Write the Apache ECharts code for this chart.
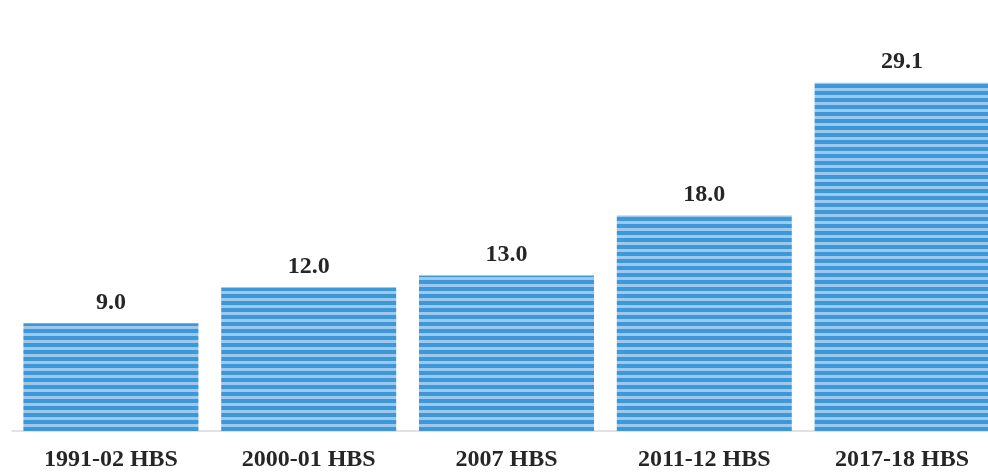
<!DOCTYPE html>
<html>
<head>
<meta charset="utf-8">
<script src="https://cdn.jsdelivr.net/npm/echarts@6/dist/echarts.min.js"></script>
<style>
html,body{margin:0;padding:0;background:#fff;}
#wrap{width:988px;height:472px;overflow:hidden;position:relative;}
#chart{position:absolute;left:0;top:0;width:1001px;height:472px;}
</style>
</head>
<body>
<div id="wrap"><div id="chart"></div></div>
<script>
const categories = ['1991-02 HBS', '2000-01 HBS', '2007 HBS', '2011-12 HBS', '2017-18 HBS'];
const values = [9.0, 12.0, 13.0, 18.0, 29.1];

function stripePattern() {
  const c = document.createElement('canvas');
  c.width = 7; c.height = 7;
  const ctx = c.getContext('2d');
  ctx.fillStyle = '#9ccaee';
  ctx.fillRect(0, 0, 7, 7);
  ctx.fillStyle = '#3f97d8';
  ctx.fillRect(0, 0, 7, 4);
  return c;
}

const chart = echarts.init(document.getElementById('chart'));
chart.setOption({
  animation: false,
  backgroundColor: '#ffffff',
  grid: { left: 12, top: 72, right: 0, bottom: 37 },
  xAxis: {
    type: 'category',
    data: categories,
    axisLine: { lineStyle: { color: '#d9d9d9', width: 1.5 } },
    axisTick: { show: false },
    axisLabel: {
      margin: 17,
      fontFamily: 'Liberation Serif',
      fontWeight: 'bold',
      fontSize: 24,
      color: '#262626'
    }
  },
  yAxis: {
    type: 'value',
    min: 0, max: 30,
    show: false,
    splitLine: { show: false }
  },
  series: [{
    type: 'bar',
    data: values,
    barWidth: 175,
    itemStyle: { color: { image: stripePattern(), repeat: 'repeat' } },
    label: {
      show: true,
      position: 'top',
      distance: 9,
      formatter: p => p.value.toFixed(1),
      fontFamily: 'Liberation Serif',
      fontWeight: 'bold',
      fontSize: 24,
      color: '#262626'
    }
  }]
});
</script>
</body>
</html>
